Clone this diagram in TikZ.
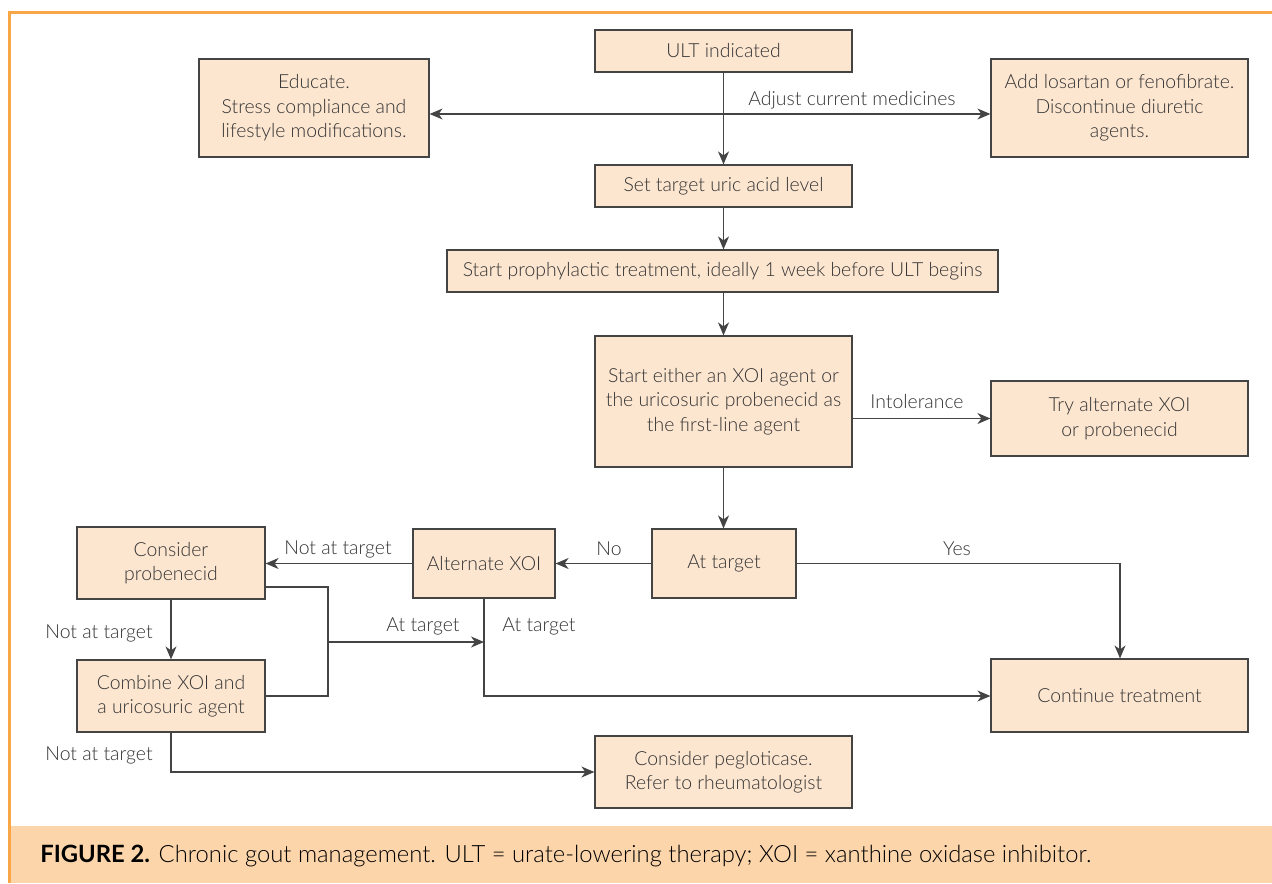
\documentclass[tikz,border=0pt]{standalone}
\usepackage{fontspec}
\setmainfont{Lato Light}[BoldFont={Lato Bold}]
\usetikzlibrary{arrows.meta}
\definecolor{boxfill}{HTML}{FDE6D0}
\definecolor{boxdraw}{HTML}{444444}
\definecolor{txt}{HTML}{333333}
\definecolor{frame}{HTML}{F8A646}
\definecolor{capband}{HTML}{FDD5AB}
\tikzset{
  box/.style={draw=boxdraw, fill=boxfill, line width=0.6pt, align=center, text=txt, inner sep=2pt, font=\fontsize{9.7}{12.2}\selectfont},
  conn/.style={draw=boxdraw, line width=0.6pt},
  tip/.tip={Stealth[length=6.5pt,width=5.5pt,inset=2pt]},
  arr/.style={conn, -tip},
  lbl/.style={text=txt, font=\fontsize{9.7}{12.2}\selectfont, inner sep=0pt}
}
\begin{document}
\begin{tikzpicture}[x=0.5pt,y=-0.5pt]
\useasboundingbox (0,0) rectangle (1272,883);
% frame
\fill[capband] (11,826) rectangle (1272,883);
\fill[frame] (8,11) rectangle (11,883);
\fill[frame] (8,11) rectangle (1272,14);
% nodes
\node[box, minimum width=128.5pt, minimum height=21pt] (ult) at (723.5,51) {ULT indicated};
\node[box, minimum width=115pt, minimum height=49pt] (edu) at (314,108) {Educate.\\Stress compliance and\\lifestyle modifications.};
\node[box, minimum width=128.5pt, minimum height=49pt] (add) at (1119.5,108) {Add losartan or fenofibrate.\\Discontinue diuretic\\agents.};
\node[box, minimum width=128.5pt, minimum height=21pt] (set) at (723.5,186) {Set target uric acid level};
\node[box, minimum width=275.5pt, minimum height=21pt] (pro) at (722.5,271) {Start prophylactic treatment, ideally 1 week before ULT begins};
\node[box, minimum width=128.5pt, minimum height=65.5pt] (sta) at (723.5,401.5) {Start either an XOI agent or\\the uricosuric probenecid as\\the first-line agent};
\node[box, minimum width=128.5pt, minimum height=37.5pt] (try) at (1119.5,418.5) {Try alternate XOI\\or probenecid};
\node[box, minimum width=72pt, minimum height=34.5pt] (at) at (724,563.5) {At target};
\node[box, minimum width=71pt, minimum height=34.5pt] (alt) at (484,563.5) {Alternate XOI};
\node[box, minimum width=94pt, minimum height=36pt] (con) at (171,563) {Consider\\probenecid};
\node[box, minimum width=94pt, minimum height=36pt] (com) at (171,696) {Combine XOI and\\a uricosuric agent};
\node[box, minimum width=128.5pt, minimum height=36.5pt] (cont) at (1119.5,695.5) {Continue treatment};
\node[box, minimum width=128.5pt, minimum height=36pt] (peg) at (723.5,772) {Consider pegloticase.\\Refer to rheumatologist};
% helper coordinates
\coordinate (m) at (723.5,114);
\coordinate (br) at (328,642);
\coordinate (yx) at (1120,563.5);
\coordinate (altdown) at (484,696);
\coordinate (comdown) at (171,772);
\coordinate (r1) at (328,587);
\coordinate (r2) at (328,696);
% connectors
\draw[arr] (ult.south) -- (ult.south |- set.north);
\draw[conn, tip-tip] (edu.east |- m) -- (add.west |- m);
\draw[arr] (set.south) -- (set.south |- pro.north);
\draw[arr] (set.south |- pro.south) -- (sta.north);
\draw[arr] (sta.east |- try) -- (try.west);
\draw[arr] (sta.south) -- (sta.south |- at.north);
\draw[arr] (at) -- (alt);
\draw[arr] (alt) -- (con.east |- alt);
\draw[arr] (at.east) -- (yx) -- (cont.north -| yx);
\draw[arr] (con) -- (com);
\draw[conn] (con.east |- r1) -- (r1) -- (r2) -- (com.east |- r2);
\draw[arr] (br) -- (br -| alt);
\draw[arr] (alt) -- (altdown) -- (cont.west |- altdown);
\draw[arr] (com) -- (comdown) -- (peg.west |- comdown);
% labels
\node[lbl] (l1) at (852,100) {Adjust current medicines};
\node[lbl] (l2) at (917,402) {Intolerance};
\node[lbl] (l3) at (609,549) {No};
\node[lbl] (l4) at (338,549) {Not at target};
\node[lbl] (l5) at (957,549) {Yes};
\node[lbl] (l6) at (423,626) {At target};
\node[lbl] (l7) at (539,626) {At target};
\node[lbl] (l8) at (99,633) {Not at target};
\node[lbl] (l9) at (99,755) {Not at target};
% caption
\node[anchor=base west, inner sep=0pt, text=black, font=\fontsize{11.9}{13}\selectfont] (cap) at (40,862) {\textbf{FIGURE 2.} Chronic gout management. ULT = urate-lowering therapy; XOI = xanthine oxidase inhibitor.};
\end{tikzpicture}
\end{document}
